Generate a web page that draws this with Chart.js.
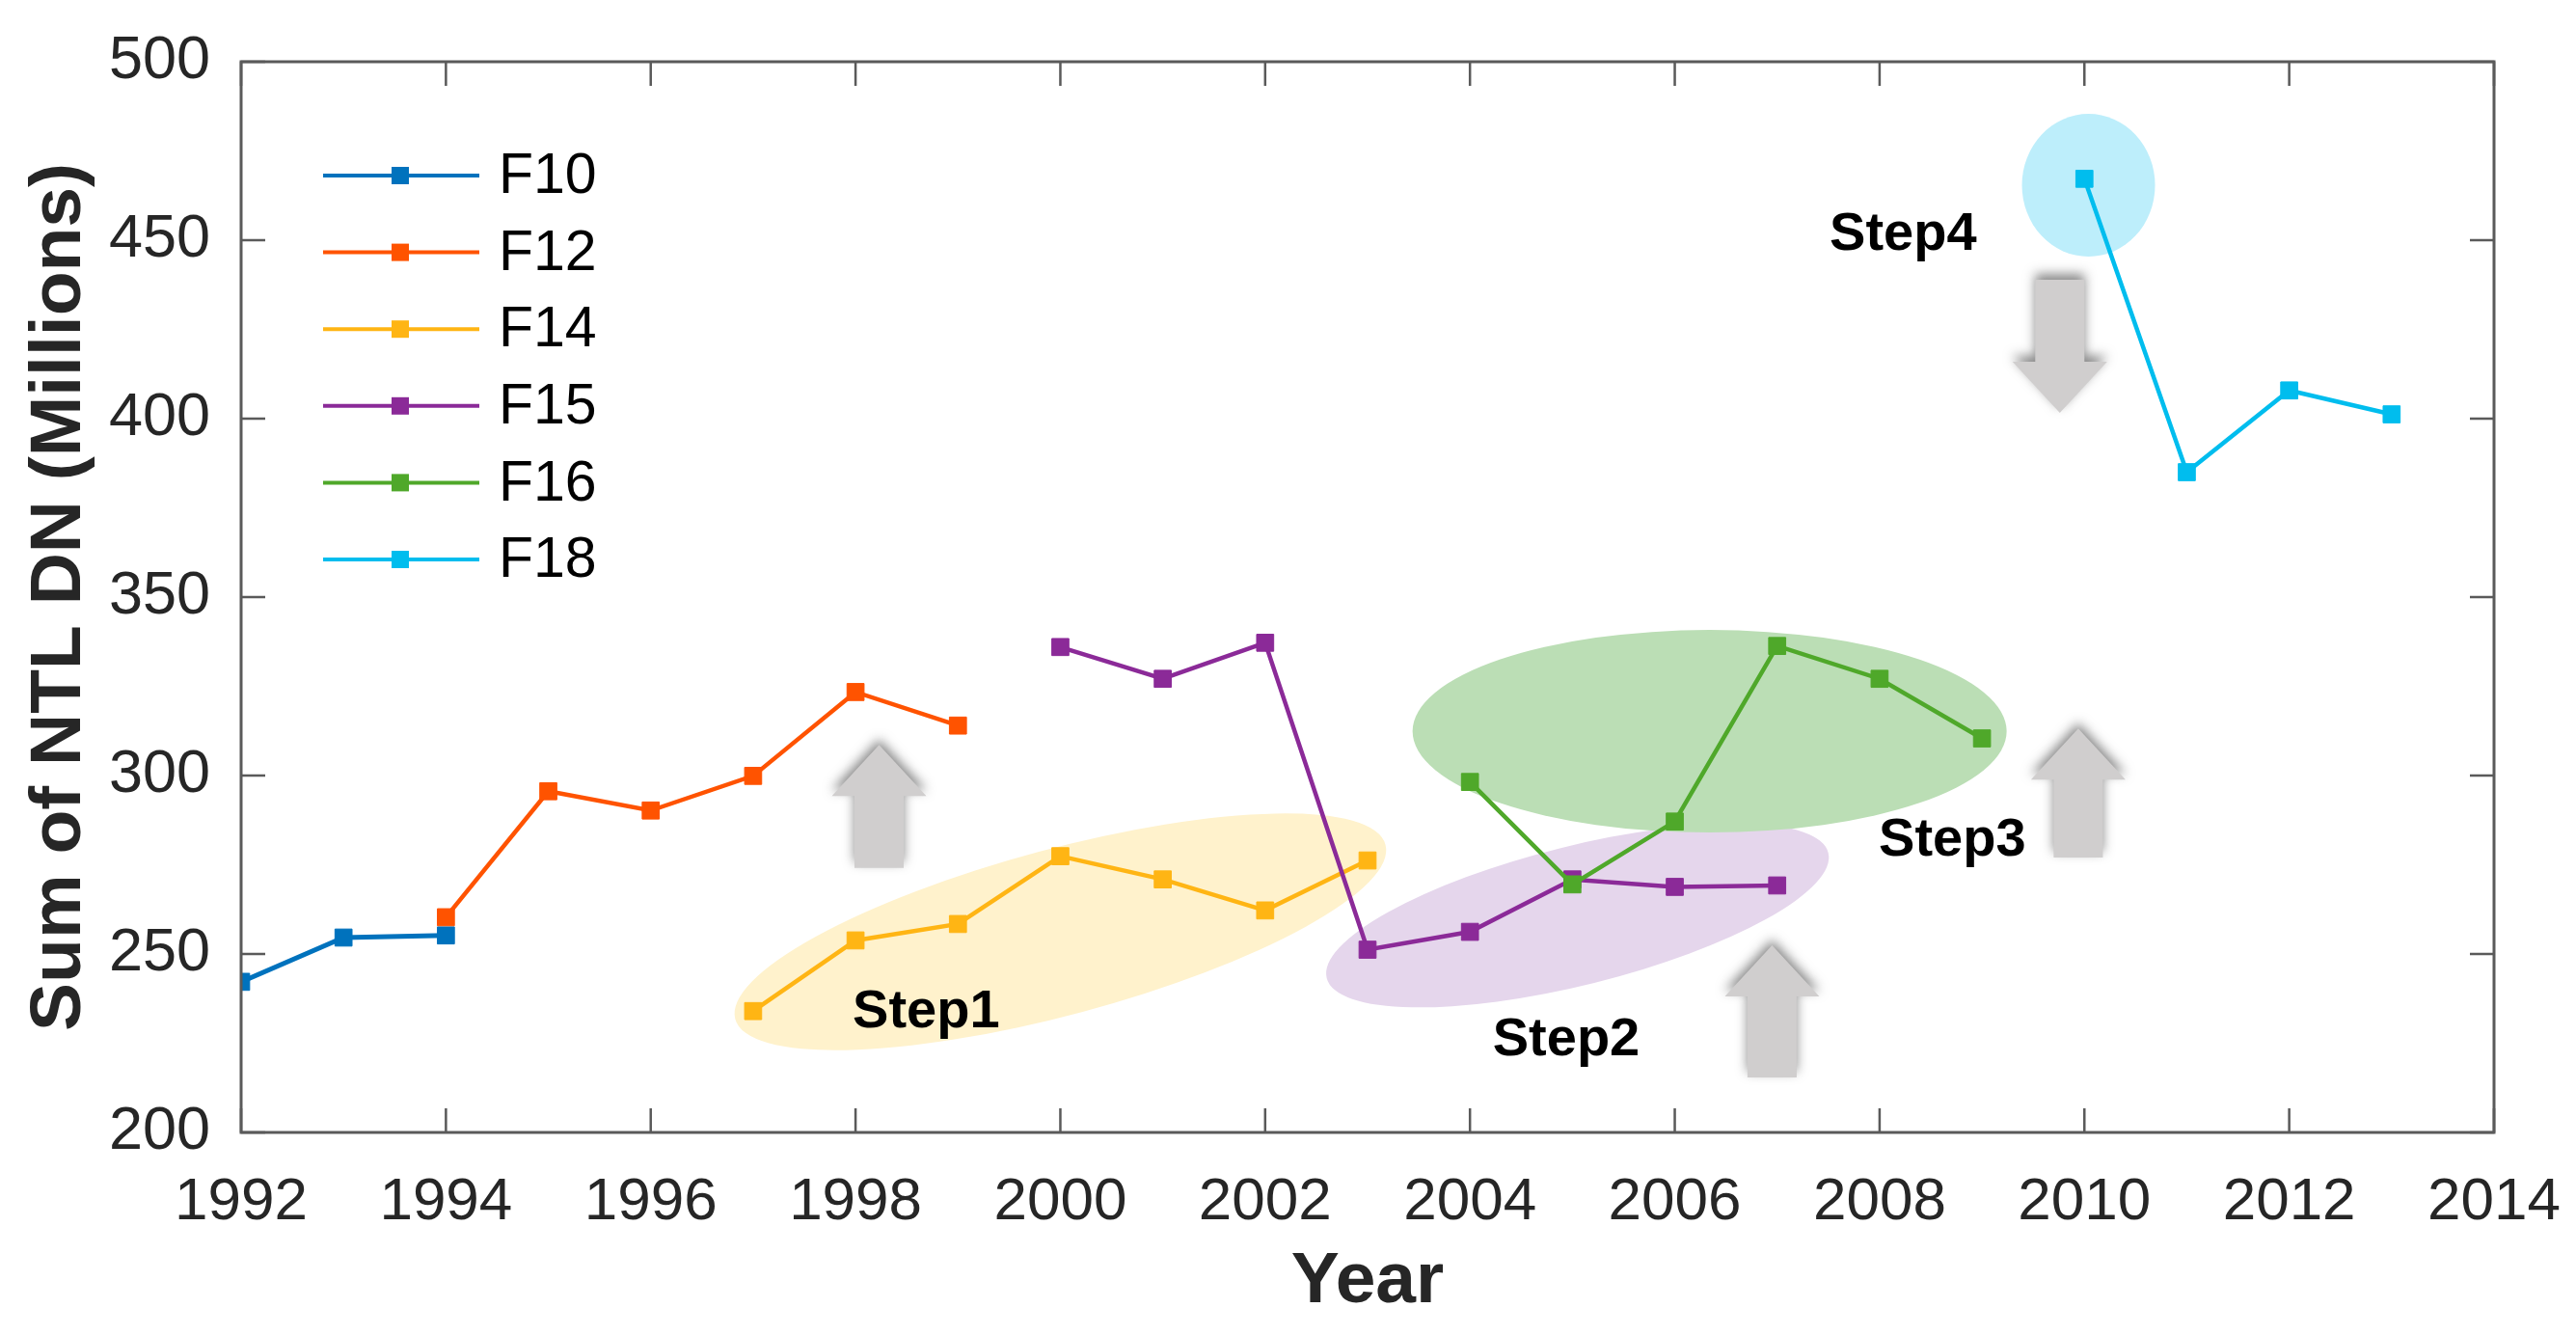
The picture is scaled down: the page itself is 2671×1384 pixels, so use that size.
<!DOCTYPE html>
<html><head><meta charset="utf-8">
<script src="https://cdn.jsdelivr.net/npm/chart.js@4.4.1/dist/chart.umd.min.js"></script>
<style>html,body{margin:0;padding:0;background:#fff;overflow:hidden;} canvas{display:block;}</style>
</head><body>
<canvas id="c" width="2671" height="1384" style="width:2671px;height:1384px"></canvas>
<script>
// ---------- data ----------
const seriesNames = ['F10', 'F12', 'F14', 'F15', 'F16', 'F18'];
const yearsF10 = [1992, 1993, 1994];
const valuesF10 = [242.2, 254.6, 255.2];
const yearsF12 = [1994, 1995, 1996, 1997, 1998, 1999];
const valuesF12 = [260.3, 295.6, 290.2, 299.9, 323.4, 314.0];
const yearsF14 = [1997, 1998, 1999, 2000, 2001, 2002, 2003];
const valuesF14 = [234.0, 253.8, 258.4, 277.4, 270.9, 262.2, 276.2];
const yearsF15 = [2000, 2001, 2002, 2003, 2004, 2005, 2006, 2007];
const valuesF15 = [336.0, 327.1, 337.2, 251.2, 256.2, 270.9, 268.8, 269.2];
const yearsF16 = [2004, 2005, 2006, 2007, 2008, 2009];
const valuesF16 = [298.2, 269.5, 287.1, 336.3, 327.1, 310.4];
const yearsF18 = [2010, 2011, 2012, 2013];
const valuesF18 = [467.2, 385.0, 407.9, 401.2];

const xTickLabels = ['1992', '1994', '1996', '1998', '2000', '2002', '2004', '2006', '2008', '2010', '2012', '2014'];
const yTickLabels = ['200', '250', '300', '350', '400', '450', '500'];
const stepLabels = ['Step1', 'Step2', 'Step3', 'Step4'];

// ---------- styling ----------
const FONT = 'Arial, "Liberation Sans", Helvetica, sans-serif';
const colors = ['#0072BD', '#FF5300', '#FFB514', '#8B2A98', '#4FA82A', '#00BDEE'];
const lineWidths = [5, 4.5, 4.5, 4.5, 4.5, 4.5];
const allYears = [yearsF10, yearsF12, yearsF14, yearsF15, yearsF16, yearsF18];
const allValues = [valuesF10, valuesF12, valuesF14, valuesF15, valuesF16, valuesF18];

// annotation placement (data coordinates) and sizes (px)
const ellipses = [
  { x: 2000.0, y: 256.2, rx: 349, ry: 86, rot: -15, color: '#FFF2CC' },
  { x: 2005.05, y: 260.8, rx: 268, ry: 72, rot: -14, color: '#E5D6EC' },
  { x: 2006.34, y: 312.4, rx: 308, ry: 105, rot: 0, color: '#BBDEB5' },
  { x: 2010.04, y: 465.4, rx: 69, ry: 74, rot: 0, color: '#BDEEFB' }
];
const arrows = [
  { x: 1998.23, from: 274.1, to: 308.6 },
  { x: 2006.95, from: 215.4, to: 252.4 },
  { x: 2009.94, from: 277.0, to: 313.2 },
  { x: 2009.76, from: 438.9, to: 401.6 }
];
const stepPos = [
  { x: 1998.69, y: 234.9 },
  { x: 2004.94, y: 227.0 },
  { x: 2008.71, y: 283.0 },
  { x: 2008.23, y: 452.7 }
];

const datasets = seriesNames.map((name, i) => ({
  label: name,
  data: allYears[i].map((yr, k) => ({ x: yr, y: allValues[i][k] })),
  borderColor: colors[i],
  backgroundColor: colors[i],
  borderWidth: lineWidths[i],
  pointStyle: 'rect',
  pointRadius: 12.5,
  pointBorderWidth: 1,
  pointBackgroundColor: colors[i],
  pointBorderColor: colors[i],
  tension: 0,
  order: 10 - i
}));

const annotationPlugin = {
  id: 'annot',
  beforeDatasetsDraw(chart) {
    const { ctx, scales: { x, y } } = chart;
    ctx.save();
    ellipses.forEach(e => {
      ctx.beginPath();
      ctx.ellipse(x.getPixelForValue(e.x), y.getPixelForValue(e.y), e.rx, e.ry, e.rot * Math.PI / 180, 0, Math.PI * 2);
      ctx.fillStyle = e.color;
      ctx.fill();
    });
    arrows.forEach(a => {
      const cx = x.getPixelForValue(a.x);
      const p0 = y.getPixelForValue(a.from);
      const p1 = y.getPixelForValue(a.to);
      const dir = Math.sign(p1 - p0);
      const headLen = 53, headHalf = 49, shaftHalf = 25.5;
      const hb = p1 - dir * headLen;
      ctx.save();
      ctx.shadowColor = 'rgba(40,40,40,0.55)';
      ctx.shadowBlur = 12;
      ctx.shadowOffsetY = -6;
      ctx.beginPath();
      ctx.moveTo(cx - shaftHalf, p0);
      ctx.lineTo(cx - shaftHalf, hb);
      ctx.lineTo(cx - headHalf, hb);
      ctx.lineTo(cx, p1);
      ctx.lineTo(cx + headHalf, hb);
      ctx.lineTo(cx + shaftHalf, hb);
      ctx.lineTo(cx + shaftHalf, p0);
      ctx.closePath();
      ctx.fillStyle = '#D0CECE';
      ctx.fill();
      ctx.restore();
    });
    ctx.restore();
  },
  afterDraw(chart) {
    const { ctx, chartArea: ca, scales: { x, y } } = chart;
    ctx.save();
    // step labels
    ctx.font = 'bold 56px ' + FONT;
    ctx.fillStyle = '#000';
    ctx.textAlign = 'center';
    ctx.textBaseline = 'alphabetic';
    stepLabels.forEach((t, i) => {
      ctx.fillText(t, x.getPixelForValue(stepPos[i].x), y.getPixelForValue(stepPos[i].y) + 20);
    });
    // frame
    ctx.strokeStyle = '#5A5A5A';
    ctx.lineWidth = 3;
    ctx.strokeRect(ca.left, ca.top, ca.right - ca.left, ca.bottom - ca.top);
    // inner ticks
    ctx.lineWidth = 2.5;
    ctx.beginPath();
    x.ticks.forEach(t => {
      const px = x.getPixelForValue(t.value);
      ctx.moveTo(px, ca.bottom); ctx.lineTo(px, ca.bottom - 25);
      ctx.moveTo(px, ca.top); ctx.lineTo(px, ca.top + 25);
    });
    y.ticks.forEach(t => {
      const py = y.getPixelForValue(t.value);
      ctx.moveTo(ca.left, py); ctx.lineTo(ca.left + 25, py);
      ctx.moveTo(ca.right, py); ctx.lineTo(ca.right - 25, py);
    });
    ctx.stroke();
    // legend
    const lx0 = ca.left + 85, lx1 = ca.left + 247, mx = ca.left + 165, tx = ca.left + 267;
    const ly0 = ca.top + 118, dy = 79.6;
    ctx.font = '59px ' + FONT;
    ctx.textAlign = 'left';
    ctx.textBaseline = 'middle';
    chart.data.datasets.forEach((ds, i) => {
      const ly = ly0 + i * dy;
      ctx.strokeStyle = ds.borderColor;
      ctx.lineWidth = 4;
      ctx.beginPath(); ctx.moveTo(lx0, ly); ctx.lineTo(lx1, ly); ctx.stroke();
      ctx.fillStyle = ds.borderColor;
      ctx.fillRect(mx - 9, ly - 9, 18, 18);
      ctx.fillStyle = '#000';
      ctx.fillText(ds.label, tx, ly + 2);
    });
    ctx.restore();
  }
};

new Chart(document.getElementById('c'), {
  type: 'line',
  data: { datasets },
  options: {
    responsive: false,
    devicePixelRatio: 1,
    animation: false,
    events: [],
    layout: { padding: { left: 0, top: 64, right: 85, bottom: 0 } },
    plugins: { legend: { display: false }, tooltip: { enabled: false } },
    scales: {
      x: {
        type: 'linear', min: 1992, max: 2014,
        afterBuildTicks: s => { s.ticks = xTickLabels.map(v => ({ value: Number(v) })); },
        afterFit: s => { s.height = 210; s.paddingLeft = 60; s.paddingRight = 60; },
        ticks: { font: { family: FONT, size: 62 }, color: '#262626', padding: 28, maxRotation: 0, autoSkip: false,
          callback: (v) => xTickLabels[xTickLabels.indexOf(String(v))] },
        grid: { display: false },
        border: { display: false },
        title: { display: true, text: 'Year', color: '#262626', font: { family: FONT, size: 75, weight: 'bold' }, padding: { top: 0, bottom: 10 } }
      },
      y: {
        type: 'linear', min: 200, max: 500,
        afterBuildTicks: s => { s.ticks = yTickLabels.map(v => ({ value: Number(v) })); },
        afterFit: s => { s.width = 250; s.paddingTop = 40; s.paddingBottom = 40; },
        ticks: { font: { family: FONT, size: 63 }, color: '#262626', padding: 24, autoSkip: false,
          callback: (v) => yTickLabels[yTickLabels.indexOf(String(v))] },
        grid: { display: false },
        border: { display: false },
        title: { display: true, text: 'Sum of NTL DN (Millions)', color: '#262626', font: { family: FONT, size: 75, weight: 'bold' }, padding: { top: 17, bottom: 0 } }
      }
    }
  },
  plugins: [annotationPlugin]
});
</script>
</body></html>
